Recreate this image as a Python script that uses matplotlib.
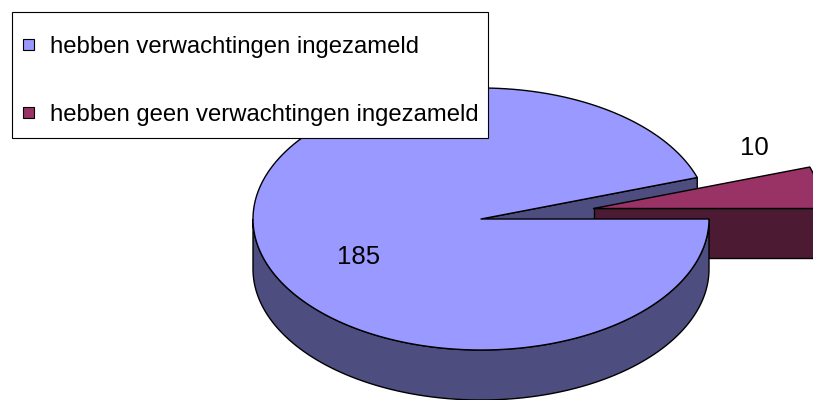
import numpy as np
import matplotlib
matplotlib.use("Agg")
import matplotlib.pyplot as plt
from matplotlib.patches import Polygon, Rectangle

labels = ["hebben verwachtingen ingezameld", "hebben geen verwachtingen ingezameld"]
values = [185, 10]
top_colors = ["#9999FF", "#993366"]
side_colors = ["#4D4D80", "#4D1A33"]
explode = [0.0, 0.5]

plt.rcParams["font.family"] = ["Liberation Sans", "DejaVu Sans"]

# pie geometry in pixels
cx, cy = 481, 219
rx, ry = 228, 131
depth = 50

fig = plt.figure(figsize=(8.13, 4.0), dpi=100)
ax = fig.add_axes([0, 0, 1, 1])
ax.set_xlim(0, 813)
ax.set_ylim(400, 0)
ax.axis("off")

total = sum(values)
# small slice starts at 0 deg going counterclockwise, big one takes the rest
spans = [v / total * 360 for v in values]
starts = [spans[1], 0.0]
ends = [360.0, spans[1]]


def pt(theta, dx=0, dy=0, down=0):
    t = np.radians(theta)
    return (cx + dx + rx * np.cos(t), cy + dy - ry * np.sin(t) + down)


def offset(i):
    mid = np.radians((starts[i] + ends[i]) / 2)
    return explode[i] * rx * np.cos(mid), -explode[i] * ry * np.sin(mid)


def top_face(i):
    dx, dy = offset(i)
    th = np.linspace(starts[i], ends[i], 200)
    pts = [(cx + dx, cy + dy)] + [pt(t, dx, dy) for t in th]
    return Polygon(pts, closed=True, fc=top_colors[i], ec="black", lw=1, joinstyle="round")


def cut_face(i, theta):
    dx, dy = offset(i)
    c = (cx + dx, cy + dy)
    p = pt(theta, dx, dy)
    pts = [c, p, (p[0], p[1] + depth), (c[0], c[1] + depth)]
    return Polygon(pts, closed=True, fc=side_colors[i], ec="black", lw=1)


def outer_wall(i, a, b):
    dx, dy = offset(i)
    th = np.linspace(a, b, 200)
    upper = [pt(t, dx, dy) for t in th]
    lower = [pt(t, dx, dy, depth) for t in th[::-1]]
    return Polygon(upper + lower, closed=True, fc=side_colors[i], ec="black", lw=1)


# back to front
ax.add_patch(cut_face(0, starts[0]))
ax.add_patch(cut_face(1, starts[1]))
ax.add_patch(top_face(1))
ax.add_patch(outer_wall(0, 180, 360))
ax.add_patch(top_face(0))

# value labels
ax.text(359, 257, str(values[0]), fontsize=18.5, ha="center", va="center")
ax.text(754, 148, str(values[1]), fontsize=18.5, ha="center", va="center")

# legend box, drawn by hand to match the original layout
ax.add_patch(Rectangle((12, 12), 476, 126, fc="white", ec="black", lw=0.8, zorder=5))
for k, (lab, col) in enumerate(zip(labels, top_colors)):
    y0 = 39 + k * 68
    ax.add_patch(Rectangle((23, y0), 11, 11, fc=col, ec="black", lw=0.8, zorder=6))
    ax.text(50, y0 + 14, lab, fontsize=17.2, ha="left", va="baseline", zorder=6)

fig.savefig("out.png", dpi=100)
